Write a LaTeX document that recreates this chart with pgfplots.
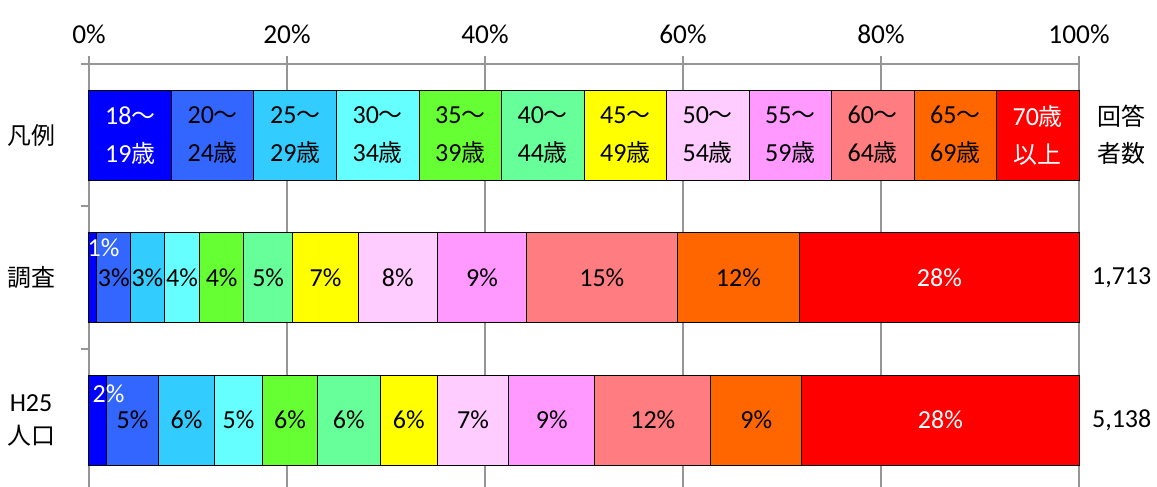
\documentclass[border=0pt]{standalone}
\usepackage{pgfplots}
\pgfplotsset{compat=1.18}
\usepackage{fontspec}
\setmainfont{Carlito}
\newfontfamily\jp[Scale=0.92]{Noto Sans CJK JP}
\DeclareRobustCommand\J[1]{{\jp#1}}

\definecolor{gridc}{HTML}{969696}
\definecolor{c1}{HTML}{0000FF}
\definecolor{c2}{HTML}{3366FF}
\definecolor{c3}{HTML}{33CCFF}
\definecolor{c4}{HTML}{66FFFF}
\definecolor{c5}{HTML}{66FF33}
\definecolor{c6}{HTML}{66FF99}
\definecolor{c7}{HTML}{FFFF00}
\definecolor{c8}{HTML}{FFCCFF}
\definecolor{c9}{HTML}{FF99FF}
\definecolor{c10}{HTML}{FF7C80}
\definecolor{c11}{HTML}{FF6600}
\definecolor{c12}{HTML}{FF0000}

\begin{document}
\begin{tikzpicture}
\begin{axis}[
  name=ax,
  xbar stacked,
  scale only axis,
  width=742.5pt, height=317.25pt,
  xmin=0, xmax=100,
  ymin=-0.47, ymax=2.5,
  bar width=67.5pt,
  clip=false,
  axis x line*=top,
  axis y line*=left,
  axis line style={draw=gridc, line width=1.5pt},
  xtick={0,20,...,100},
  xticklabel={\pgfmathprintnumber{\tick}\%},
  xmajorgrids,
  grid style={draw=gridc, line width=1.5pt},
  tick align=outside,
  major tick length=6pt,
  minor tick length=6pt,
  x tick style={draw=gridc, line width=1.5pt},
  ytick={0,1,2},
  yticklabels={{H25\\\J{人口}},\J{調査},\J{凡例}},
  minor ytick={0.5,1.5,2.5},
  major y tick style={draw=none},
  minor y tick style={draw=gridc, line width=1.5pt},
  /pgf/number format/assume math mode=true,
  every tick label/.append style={font=\fontsize{19.5}{24.75}\selectfont},
  xticklabel style={yshift=6pt, font=\fontsize{20.5}{24}\selectfont},
  yticklabel style={align=center, xshift=-16pt},
  table/x=v, table/y=y, table/meta=l,
  nodes near coords,
  point meta=explicit symbolic,
  nodes near coords align={center},
  every node near coord/.append style={
    align=center, font=\fontsize{19.5}{28.5}\selectfont},
  every axis plot/.append style={draw=black, line width=0.75pt},
]
% the narrow first segments carry their labels up and to the right
\addplot[fill=c1,
  visualization depends on={\thisrow{dx} \as \ddx},
  visualization depends on={\thisrow{dy} \as \ddy},
  every node near coord/.append style={text=white, xshift=\ddx pt, yshift=\ddy pt}]
  table {
y v l dx dy
2 8.3333 18\J{～}\\19\J{歳} 0 0
1 0.8 1\% 8 22.5
0 1.8 2\% 8 20
};
\addplot[fill=c2] table {
y v l
2 8.3333 20\J{～}\\24\J{歳}
1 3.4 3\%
0 5.2 5\%
};
\addplot[fill=c3] table {
y v l
2 8.3333 25\J{～}\\29\J{歳}
1 3.4 3\%
0 5.7 6\%
};
\addplot[fill=c4] table {
y v l
2 8.3333 30\J{～}\\34\J{歳}
1 3.6 4\%
0 4.8 5\%
};
\addplot[fill=c5] table {
y v l
2 8.3333 35\J{～}\\39\J{歳}
1 4.4 4\%
0 5.6 6\%
};
\addplot[fill=c6] table {
y v l
2 8.3333 40\J{～}\\44\J{歳}
1 5.0 5\%
0 6.3 6\%
};
\addplot[fill=c7] table {
y v l
2 8.3333 45\J{～}\\49\J{歳}
1 6.6 7\%
0 5.8 6\%
};
\addplot[fill=c8] table {
y v l
2 8.3333 50\J{～}\\54\J{歳}
1 8.0 8\%
0 7.2 7\%
};
\addplot[fill=c9] table {
y v l
2 8.3333 55\J{～}\\59\J{歳}
1 9.0 9\%
0 8.7 9\%
};
\addplot[fill=c10] table {
y v l
2 8.3333 60\J{～}\\64\J{歳}
1 15.2 15\%
0 11.7 12\%
};
\addplot[fill=c11] table {
y v l
2 8.3333 65\J{～}\\69\J{歳}
1 12.4 12\%
0 9.2 9\%
};
\addplot[fill=c12, every node near coord/.append style={text=white}] table {
y v l
2 8.3337 70\J{歳}\\\J{以上}
1 28.2 28\%
0 28.0 28\%
};

% respondent counts
\node[align=center, font=\fontsize{19.5}{27.75}\selectfont, xshift=32pt]
  at (axis cs:100,2) {\J{回答}\\\J{者数}};
\node[font=\fontsize{19.5}{22}\selectfont, xshift=32pt] at (axis cs:100,1) {1,713};
\node[font=\fontsize{19.5}{22}\selectfont, xshift=32pt] at (axis cs:100,0) {5,138};
\end{axis}
\pgfresetboundingbox
\path[use as bounding box] ([xshift=-66.75pt]ax.south west)
  rectangle ([xshift=58.5pt, yshift=48pt]ax.north east);
\end{tikzpicture}
\end{document}
